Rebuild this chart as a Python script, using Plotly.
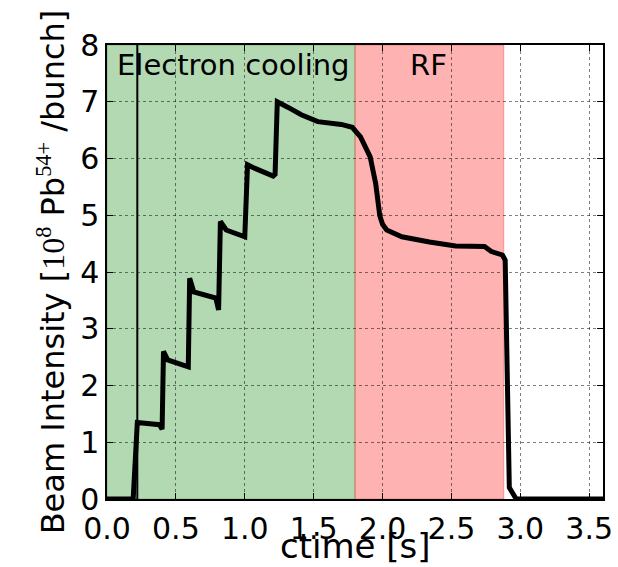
import plotly.graph_objects as go

# ---- data ----
ctime = [0.0, 0.19, 0.22, 0.26, 0.38, 0.40, 0.41, 0.44, 0.57, 0.59, 0.60, 0.63, 0.79, 0.81,
         0.823, 0.865, 1.0, 1.02, 1.07, 1.206, 1.22, 1.236, 1.315, 1.41, 1.53, 1.70, 1.78,
         1.84, 1.91, 1.95, 1.98, 2.0, 2.03, 2.14, 2.34, 2.53, 2.74, 2.79, 2.87, 2.89, 2.92, 2.97, 3.6]
intensity = [0.0, 0.0, 1.35, 1.34, 1.31, 1.23, 2.60, 2.45, 2.35, 2.33, 3.89, 3.65, 3.54, 3.33,
             4.89, 4.74, 4.62, 5.89, 5.83, 5.69, 5.72, 7.0, 6.90, 6.77, 6.65, 6.60, 6.55,
             6.38, 6.03, 5.56, 4.99, 4.84, 4.74, 4.62, 4.53, 4.46, 4.45, 4.36, 4.30, 4.21, 0.2, 0.0, 0.0]

phase_names = ["Electron cooling", "RF"]
phase_start = [0.0, 1.8]
phase_end = [1.8, 2.88]
phase_colors = ["rgba(0,128,0,0.3)", "rgba(255,0,0,0.3)"]
phase_label_x = [0.06, 2.33]
phase_label_anchor = ["left", "center"]
label_y = 7.65

injection_marker = 0.22

x_ticks = [0.0, 0.5, 1.0, 1.5, 2.0, 2.5, 3.0, 3.5]
y_ticks = [0, 1, 2, 3, 4, 5, 6, 7, 8]
x_range = [0.0, 3.6]
y_range = [0.0, 8.0]
x_title = "ctime [s]"

FONT = "DejaVu Sans"
MATH = "Liberation Serif"

y_title = ("Beam Intensity [<span style=\"font-family:%s\">10<sup>8</sup></span> Pb"
           "<span style=\"font-family:%s\"><sup>54+</sup></span> /bunch]" % (MATH, MATH))

fig = go.Figure()

shapes = []
for s, e, c in zip(phase_start, phase_end, phase_colors):
    shapes.append(dict(type="rect", xref="x", yref="y", x0=s, x1=e, y0=y_range[0], y1=y_range[1],
                       fillcolor=c, line=dict(color=c, width=1), layer="below"))
shapes.append(dict(type="line", xref="x", yref="y", x0=injection_marker, x1=injection_marker,
                   y0=y_range[0], y1=y_range[1], line=dict(color="black", width=2), layer="above"))

fig.add_trace(go.Scatter(x=ctime, y=intensity, mode="lines",
                         line=dict(color="black", width=5), showlegend=False, cliponaxis=True))

annotations = []
for name, lx, anc in zip(phase_names, phase_label_x, phase_label_anchor):
    annotations.append(dict(x=lx, y=label_y, xref="x", yref="y", text=name, showarrow=False,
                            xanchor=anc, yanchor="middle",
                            font=dict(family=FONT, size=29, color="black")))
annotations.append(dict(x=0.5, y=0, xref="paper", yref="paper", text=x_title, showarrow=False,
                        xanchor="center", yanchor="bottom", yshift=-68, borderpad=0,
                        font=dict(family=FONT, size=34, color="black")))

axis_common = dict(
    showline=True, linecolor="black", linewidth=1.5, mirror="ticks",
    ticks="inside", ticklen=6, tickcolor="black", tickwidth=1,
    showgrid=True, gridcolor="rgba(0,0,0,0.5)", gridwidth=1, griddash="3px,3px",
    zeroline=False,
)

fig.update_xaxes(range=x_range, tickvals=x_ticks, ticktext=[f"{v:.1f}" for v in x_ticks],
                 tickfont=dict(family=FONT, size=30, color="black"),
                 ticklabelstandoff=2, **axis_common)
fig.update_yaxes(range=y_range, tickvals=y_ticks, ticktext=[str(v) for v in y_ticks],
                 tickfont=dict(family=FONT, size=30, color="black"),
                 title=dict(text=y_title,
                            font=dict(family=FONT, size=32, color="black"), standoff=6),
                 ticklabelstandoff=0, **axis_common)

fig.update_layout(
    width=618, height=567,
    margin=dict(l=107, r=15, t=45, b=68, autoexpand=False),
    paper_bgcolor="white", plot_bgcolor="white",
    shapes=shapes, annotations=annotations,
    showlegend=False,
)

fig.write_html("out.html")
